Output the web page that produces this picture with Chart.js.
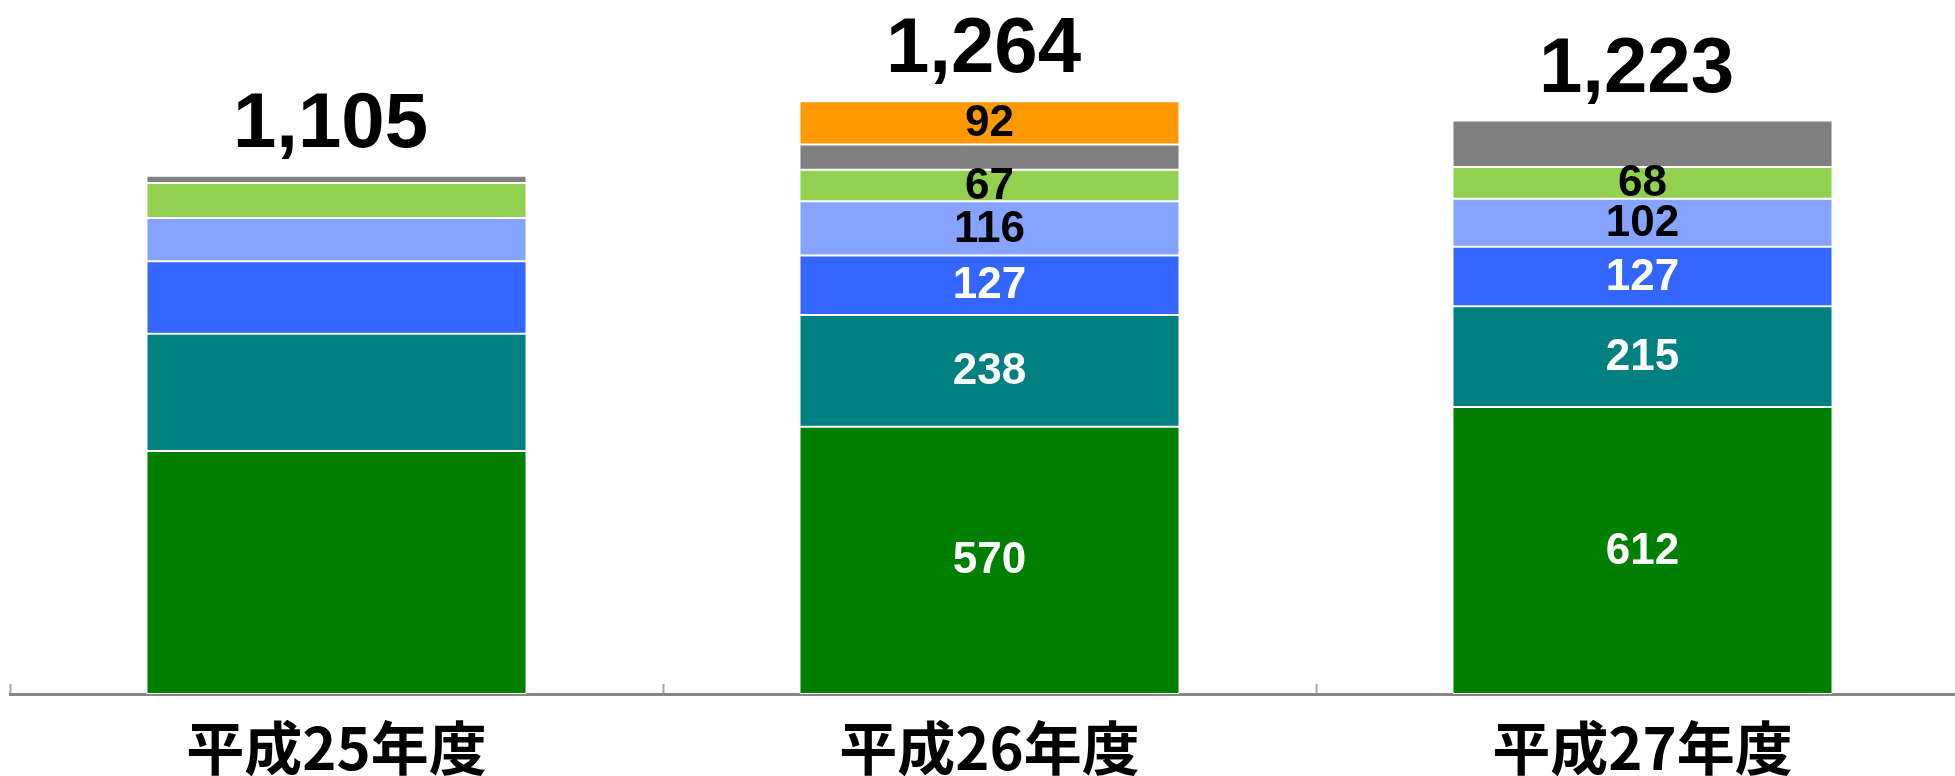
<!DOCTYPE html>
<html>
<head>
<meta charset="utf-8">
<script src="https://cdn.jsdelivr.net/npm/chart.js@4.4.1/dist/chart.umd.min.js"></script>
<style>
  html, body { margin: 0; padding: 0; overflow: hidden; background: #fff; }
  #wrap { position: absolute; left: 0; top: 0; width: 1975px; height: 800px; }
</style>
</head>
<body>
<div id="wrap"><canvas id="barChart"></canvas></div>
<script>
const years = ["平成25年度", "平成26年度", "平成27年度"];

// stacked series, bottom to top
const green = [518, 570, 612];
const teal = [250, 238, 215];
const blue = [155, 127, 127];
const lightBlue = [92, 116, 102];
const lightGreen = [75, 67, 68];
const gray = [15, 54, 99];
const orange = [null, 92, null];

const totals = [1105, 1264, 1223];
// which bars show their segment values
const labelledBars = [false, true, true];

const labelPlugin = {
  id: "segmentLabels",
  afterDatasetsDraw(chart) {
    const ctx = chart.ctx;
    ctx.save();
    ctx.textAlign = "center";
    ctx.textBaseline = "middle";
    ctx.font = "bold 44px 'Liberation Sans', Arial, sans-serif";
    chart.data.datasets.forEach((ds, di) => {
      if (!ds.labelColor) return;
      chart.getDatasetMeta(di).data.forEach((bar, i) => {
        const v = ds.data[i];
        if (!v || !labelledBars[i]) return;
        ctx.fillStyle = ds.labelColor;
        ctx.fillText(String(v), bar.x, (bar.y + bar.base) / 2 + 1);
      });
    });

    // totals above each stack
    const yScale = chart.scales.y;
    const first = chart.getDatasetMeta(0).data;
    ctx.font = "bold 78px 'Liberation Sans', Arial, sans-serif";
    ctx.textBaseline = "alphabetic";
    ctx.fillStyle = "#000";
    totals.forEach((t, i) => {
      ctx.fillText(t.toLocaleString("en-US"), first[i].x - 6, yScale.getPixelForValue(t) - 29);
    });
    ctx.restore();
  }
};

function series(data, color, labelColor) {
  return {
    data: data,
    backgroundColor: color,
    borderColor: "#ffffff",
    borderWidth: 1,
    borderSkipped: false,
    barPercentage: 0.582,
    categoryPercentage: 1.0,
    labelColor: labelColor,
  };
}

const ctx = document.getElementById("barChart").getContext("2d");
new Chart(ctx, {
  type: "bar",
  data: {
    labels: years,
    datasets: [
      series(green, "#008000", "#ffffff"),
      series(teal, "#008080", "#ffffff"),
      series(blue, "#3366ff", "#ffffff"),
      series(lightBlue, "#85a3ff", "#000000"),
      series(lightGreen, "#92d050", "#000000"),
      series(gray, "#808080", null),
      series(orange, "#ff9900", "#000000"),
    ],
  },
  options: {
    responsive: true,
    maintainAspectRatio: false,
    animation: false,
    layout: { padding: { left: 10, right: 6, top: 0, bottom: 0 } },
    plugins: {
      legend: { display: false },
      tooltip: { enabled: false },
    },
    scales: {
      x: {
        stacked: true,
        afterFit: (scale) => { scale.height = 106; },
        border: { display: true, color: "#868686", width: 3 },
        grid: {
          display: true,
          offset: true,
          drawOnChartArea: false,
          drawTicks: true,
          tickLength: -10,
          tickWidth: 2,
          tickColor: "#a6a6a6",
        },
        ticks: {
          color: "#000",
          padding: 29,
          font: { family: "'Noto Sans CJK JP', sans-serif", size: 58, weight: "bold" },
        },
      },
      y: {
        stacked: true,
        display: false,
        min: 0,
        max: 1480,
      },
    },
  },
  plugins: [labelPlugin],
});
</script>
</body>
</html>
